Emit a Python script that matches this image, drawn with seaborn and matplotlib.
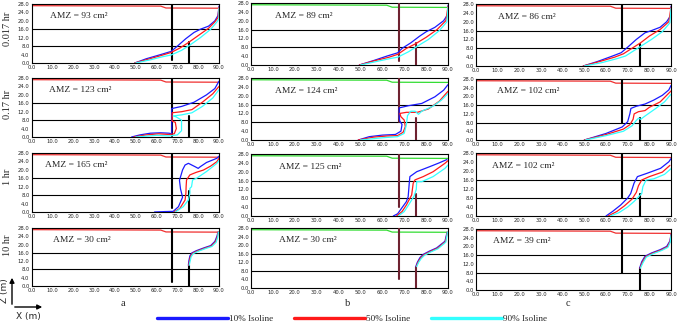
import numpy as np
import pandas as pd
import seaborn as sns
import matplotlib.pyplot as plt
from matplotlib.patches import FancyArrowPatch
from matplotlib.lines import Line2D

# ---- data ----
row_labels = ["0.017 hr", "0.17 hr", "1 hr", "10 hr"]
col_labels = ["a", "b", "c"]
amz = [[93, 89, 86],
       [123, 124, 102],
       [165, 125, 102],
       [30, 30, 39]]

x_ticks = [0, 10, 20, 30, 40, 50, 60, 70, 80, 90]
z_ticks = [0, 4, 8, 12, 16, 20, 24, 28]
layer_z = [8, 16]

# top boundary (water table-like line)
top_x = [0, 62, 64.5, 90]
top_z = [27.2, 27.0, 26.1, 26.0]

# wells: x, bottom, top
well1_x = 67.5
well2_x = 75.5
well2_top = 10
well1_bottom = [[1.5, 2, 8],
                [0.5, 8, 8],
                [1.7, 4, 8],
                [2, 4, 8]]

# isolines (x, z) per panel, row 1 = 0.017 hr
a1_blue = [(49.5, 0), (55, 2), (62, 4), (67, 5.5), (70, 8), (74, 11.5), (78, 14.5), (81, 16), (85, 17.5), (88, 20), (89.5, 22.5), (90, 27)]
a1_red = [(49.5, 0), (56, 1.8), (62, 3.5), (67, 5), (71, 7), (75, 9.5), (80, 13), (85, 16.5), (88, 19.5), (89.5, 21.5), (90, 26.5)]
a1_cyan = [(50, 0), (57, 1.5), (63, 3), (67, 3.8), (72, 6), (76, 8.5), (81, 12), (86, 16), (89, 19.5), (90, 21), (90, 26)]
b1_blue = [(49.5, 0), (56, 2), (62, 4), (67, 5.5), (69, 7.5), (73, 10), (77, 13), (80, 15), (84, 17), (88, 20), (90, 23), (90, 27)]
b1_red = [(49.5, 0), (56, 1.8), (63, 3.5), (67, 4.8), (71, 7.5), (75, 9.5), (80, 12.5), (85, 16), (89, 20), (90, 26.5)]
b1_cyan = [(50, 0), (57, 1.5), (64, 3), (67, 3.5), (72, 6), (76, 8.5), (81, 11.5), (86, 15.5), (89.5, 19.5), (90, 26)]
c1_blue = [(49.5, 0), (56, 2), (63, 4.5), (67, 6), (70, 8.5), (74, 12), (78, 15), (81, 16), (85, 17.5), (88, 20), (90, 23), (90, 27)]
c1_red = [(49.5, 0), (57, 2), (64, 4), (68, 5.5), (72, 8), (76, 10.5), (80, 13.5), (85, 16.5), (89, 20), (90, 26.5)]
c1_cyan = [(50, 0), (58, 1.5), (65, 3.3), (69, 4.5), (73, 7), (77, 9.5), (81, 12), (86, 15.5), (89.5, 19.5), (90, 26)]

# row 2 = 0.17 hr
a2_blue = [(48, 0), (52, 1), (57, 1.8), (62, 2), (66, 1.8), (67.3, 1.5), (67.3, 13.5), (72, 14.5), (78, 16.5), (84, 20), (88, 23), (90, 26.5)]
a2_red = [(49, 0), (55, 1), (61, 1.5), (66, 1.2), (68.5, 1.5), (69.5, 4), (69, 7), (67.5, 7.5), (67.5, 11.5), (72, 12), (77, 13), (82, 16.5), (87, 20.5), (90, 24)]
a2_cyan = [(50, 0), (60, 0.8), (66, 0.5), (70, 1), (72, 3), (72, 8), (69.5, 9.5), (68, 10), (72, 10.5), (77, 11.5), (82, 14.5), (87, 18.5), (90, 22.5)]
b2_blue = [(49, 0), (54, 1.5), (60, 2.2), (66, 2.5), (68.5, 4), (69, 7), (68, 8.5), (67.7, 10), (67.7, 14.5), (72, 15.5), (78, 16.5), (84, 19.5), (88, 22.5), (90, 25)]
b2_red = [(49, 0), (56, 1.3), (62, 1.8), (67, 2), (69.5, 3.5), (70.5, 6), (70, 9), (68.5, 10.5), (68, 12), (71, 12.5), (76, 12.5), (81, 14), (86, 17.5), (90, 22)]
b2_cyan = [(50, 0), (60, 1), (67, 1.5), (70, 3), (71, 7), (71.5, 11), (73, 13), (75, 13), (76.5, 11.6), (78, 13), (83, 15.2), (87, 18), (90, 21)]
c2_blue = [(50, 0), (55, 1.5), (60, 3), (67.5, 6), (70, 8.4), (71, 12), (71.5, 14.5), (74, 15.5), (78, 16.5), (82, 18.3), (86, 20.5), (89, 23), (90, 25)]
c2_red = [(50, 0), (60, 2.5), (68, 5), (71, 7), (72.5, 9.5), (73, 12), (75, 13), (78, 13.5), (80, 15), (85, 17.5), (90, 22.5)]
c2_cyan = [(50.5, 0), (60, 2), (68, 4), (72, 6.5), (74, 9), (75, 10), (76, 9.5), (78, 11), (83, 14.5), (87, 17.5), (90, 21)]

# row 3 = 1 hr
a3_blue = [(59, 0), (64, 0.2), (68, 0.3), (70.5, 2.5), (72.5, 7), (71.5, 11), (71, 15), (72.5, 20), (73.7, 22.3), (75.3, 23.1), (78.5, 21.5), (80, 20.7), (81, 21.5), (84, 23.5), (89, 25.5), (90, 26.5)]
a3_red = [(68.4, 0), (71.2, 1.7), (73.7, 5.7), (74.1, 9), (74.2, 12), (74.4, 15.2), (76, 17.6), (79, 18.8), (82.5, 19.9), (86, 21.8), (89, 23.9), (90, 25.5)]
a3_cyan = [(69, 0), (72.8, 2.5), (75.3, 5.7), (76, 9), (76, 11.2), (76.8, 12), (77.3, 15.2), (79.2, 16), (84, 19.2), (89, 23.1), (90, 24.5)]
b3_blue = [(65, 0), (67, 1), (68.8, 3.5), (71, 6.5), (71.8, 8.7), (72.3, 14.8), (72.6, 17.8), (75.7, 20), (81.7, 22.3), (86, 24), (89.5, 25.5)]
b3_red = [(66.5, 0), (69, 2), (71, 5), (73.4, 9.5), (74.1, 14.8), (74.9, 16.3), (78.7, 17.8), (83.2, 20), (88.6, 23.8), (90, 25)]
b3_cyan = [(67.3, 0), (70, 2), (72, 5), (74.5, 9), (75.5, 12), (75.7, 15.5), (78, 15.5), (83.2, 17.8), (88.6, 21.5), (90, 23)]
c3_blue = [(60, 0), (63, 2), (66.8, 4.9), (70, 8), (71.4, 10), (72.9, 14.5), (74.5, 17.5), (79, 19), (85.2, 21.2), (89, 24.1), (90, 25.5)]
c3_red = [(61, 0), (65, 2), (68.5, 4.5), (72, 7.5), (74, 10.5), (75, 13.5), (76.5, 16), (80, 17.5), (86, 19.5), (89.5, 22.5)]
c3_cyan = [(62, 0), (66, 1.5), (70, 4), (73, 6.5), (75, 8.5), (76.5, 10), (77, 13), (78.5, 16), (82, 16.5), (87, 18.5), (90, 21)]

# row 4 = 10 hr
a4_blue = [(75.3, 10), (75.5, 12), (76, 14.5), (77, 16), (79, 17), (83, 18.5), (86, 19.5), (88, 21.5), (89, 24), (89.5, 26)]
a4_red = [(75.5, 10), (75.8, 12), (76.3, 14.3), (77.3, 15.8), (79.3, 16.8), (83.3, 18.3), (86.3, 19.3), (88.3, 21.3), (89.2, 23.8), (89.6, 26)]
a4_cyan = [(75.7, 10), (76.1, 12), (76.6, 14.1), (77.6, 15.6), (79.6, 16.6), (83.6, 18.1), (86.6, 19.1), (88.6, 21.1), (89.4, 23.6), (89.7, 26)]
b4_blue = [(75.3, 10), (76, 12), (77.2, 14.2), (78.7, 15.7), (81.5, 17.2), (84.8, 18.7), (88.6, 21.8), (89.3, 24.8), (89.5, 26)]
b4_red = [(75.5, 10), (76.3, 12), (77.5, 14), (79, 15.5), (81.8, 17), (85.1, 18.5), (88.8, 21.6), (89.4, 24.6), (89.6, 26)]
b4_cyan = [(75.7, 10), (76.6, 12), (77.8, 13.8), (79.3, 15.3), (82.1, 16.8), (85.4, 18.3), (89, 21.4), (89.5, 24.4), (89.7, 26)]
c4_blue = [(75.5, 10), (76.5, 13), (78, 15.5), (81, 17), (85, 18.5), (88, 20), (89.5, 22.5), (90, 25.5)]
c4_red = [(75.7, 10), (76.8, 12.8), (78.3, 15.3), (81.3, 16.8), (85.3, 18.3), (88.3, 19.8), (89.6, 22.3), (90, 25.3)]
c4_cyan = [(75.9, 10), (77.1, 12.6), (78.6, 15.1), (81.6, 16.6), (85.6, 18.1), (88.6, 19.6), (89.7, 22.1), (90, 25)]

isolines = [
    [(a1_blue, a1_red, a1_cyan), (b1_blue, b1_red, b1_cyan), (c1_blue, c1_red, c1_cyan)],
    [(a2_blue, a2_red, a2_cyan), (b2_blue, b2_red, b2_cyan), (c2_blue, c2_red, c2_cyan)],
    [(a3_blue, a3_red, a3_cyan), (b3_blue, b3_red, b3_cyan), (c3_blue, c3_red, c3_cyan)],
    [(a4_blue, a4_red, a4_cyan), (b4_blue, b4_red, b4_cyan), (c4_blue, c4_red, c4_cyan)],
]
iso_names = ["10% Isoline", "50% Isoline", "90% Isoline"]

# ---- styling / layout ----
iso_colors = {"10% Isoline": "#1a1aff", "50% Isoline": "#ff1a1a", "90% Isoline": "#33ffff"}
top_colors = ["#f03030", "#33dd33", "#f03030"]
well_colors = ["black", "#6e2230", "black"]

W, H = 677, 325
col_x = [(31.7, 219), (251, 448), (476, 671)]
row_y = [[(4, 63), (3, 65), (4, 66)],
         [(78, 137), (78, 140), (79, 140)],
         [(153, 212), (154, 216), (153, 216)],
         [(228, 286), (228, 288), (229, 290)]]
amz_x = [[9, 11, 10], [8.5, 11, 9.5], [6.5, 13, 7.2], [10, 13, 8]]

sns.set_style("white")
plt.rcParams['font.family'] = ['DejaVu Sans']
serif = ['Liberation Serif', 'DejaVu Serif']

fig = plt.figure(figsize=(W / 100, H / 100), dpi=100)

for r in range(4):
    for c in range(3):
        x0, x1 = col_x[c]
        y0, y1 = row_y[r][c]
        ax = fig.add_axes([x0 / W, 1 - y1 / H, (x1 - x0) / W, (y1 - y0) / H])

        # top boundary
        sns.lineplot(x=top_x, y=top_z, ax=ax, color=top_colors[c], lw=0.9, sort=False, estimator=None)
        # layer lines
        for lz in layer_z:
            ax.axhline(lz, color="black", lw=0.8, zorder=1)
        # wells
        ax.plot([well1_x, well1_x], [well1_bottom[r][c], 28], color=well_colors[c], lw=1.5, zorder=3)
        ax.plot([well2_x, well2_x], [0, well2_top], color=well_colors[c], lw=1.5, zorder=3)

        # isolines
        frames = []
        for name, pts in zip(iso_names, isolines[r][c]):
            d = pd.DataFrame(pts, columns=["x", "z"])
            d["iso"] = name
            frames.append(d)
        df = pd.concat(frames, ignore_index=True)
        sns.lineplot(data=df, x="x", y="z", hue="iso", palette=iso_colors, sort=False,
                     estimator=None, legend=False, lw=0.9, ax=ax, zorder=4)

        ax.text(amz_x[r][c], 22.3, f"AMZ = {amz[r][c]} cm²", family=serif, fontsize=6.8,
                va="center", ha="left")

        ax.set_xlim(0, 90)
        ax.set_ylim(0, 28)
        ax.set_xticks(x_ticks)
        ax.set_yticks(z_ticks)
        ax.set_xticklabels([f"{v:.1f}" for v in x_ticks])
        ax.set_yticklabels([f"{v:.1f}" for v in z_ticks])
        ax.tick_params(length=0, pad=1.5, labelsize=3.8)
        ax.set_xlabel("")
        ax.set_ylabel("")
        for s in ax.spines.values():
            s.set_color("black")
            s.set_linewidth(0.8)

# row labels
row_centers = [29, 104, 177, 245]
for lab, yc in zip(row_labels, row_centers):
    fig.text(8 / W, 1 - yc / H, lab, rotation=90, ha="center", va="center", family=serif, fontsize=7.5)

# column labels
for lab, xc in zip(col_labels, [123, 348, 568]):
    fig.text(xc / W, 1 - 304 / H, lab, ha="center", va="center", family=serif, fontsize=7.5)

# axis direction arrows
ox, oy = 12 / W, 1 - 307 / H
fig.add_artist(FancyArrowPatch((ox, oy), (ox, 1 - 275 / H), transform=fig.transFigure,
                               arrowstyle='-|>', mutation_scale=7, lw=1, color='black'))
fig.add_artist(FancyArrowPatch((ox, oy), (45 / W, oy), transform=fig.transFigure,
                               arrowstyle='-|>', mutation_scale=7, lw=1, color='black'))
fig.text(5 / W, 1 - 291 / H, "Z (m)", rotation=90, ha="center", va="center", fontsize=6.5)
fig.text(28 / W, 1 - 316 / H, "X (m)", ha="center", va="center", fontsize=6.5)

# legend
handles = [Line2D([0], [0], color=iso_colors[n], lw=2.4) for n in iso_names]
fig.legend(handles, iso_names, loc="center", bbox_to_anchor=(352 / W, 1 - 319 / H), ncol=3,
           frameon=False, handlelength=7.8, handletextpad=0.1, columnspacing=2.2,
           prop={'family': serif, 'size': 6.6}, borderpad=0, borderaxespad=0)

fig.savefig("out.png", dpi=100)
